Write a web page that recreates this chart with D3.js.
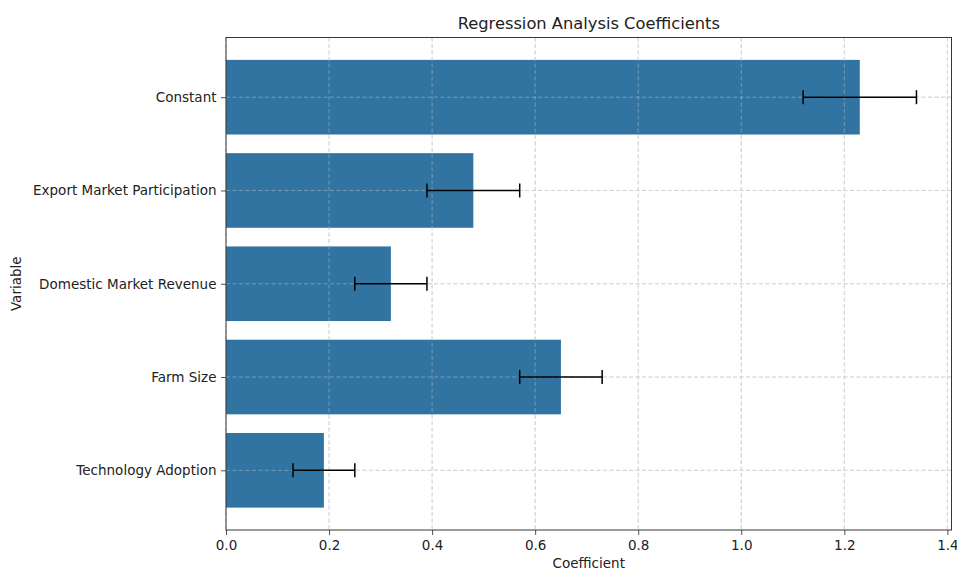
<!DOCTYPE html>
<html><head><meta charset="utf-8">
<script src="https://cdn.jsdelivr.net/npm/d3@7"></script>
<style>body{margin:0;background:#fff}svg{font-family:"DejaVu Sans",sans-serif}</style>
</head><body><svg id="c" width="957" height="570"></svg>
<script>
const categories = ["Constant","Export Market Participation","Domestic Market Revenue","Farm Size","Technology Adoption"];
const coefficients = [1.23, 0.48, 0.32, 0.65, 0.19];
const errors = [0.11, 0.09, 0.07, 0.08, 0.06];
const xTicks = [0.0,0.2,0.4,0.6,0.8,1.0,1.2,1.4];

const svg = d3.select("#c");
const L=226, R=951.5, T=37.5, B=530;
const x = d3.scaleLinear().domain([0,1.408]).range([L,R]);
const y = d3.scaleLinear().domain([-0.64,4.64]).range([T,B]);
const grid = "#cccccc";

function drawGrid(op){
  svg.append("g").selectAll("line").data(xTicks).join("line")
    .attr("x1",d=>x(d)).attr("x2",d=>x(d)).attr("y1",T).attr("y2",B)
    .attr("stroke",grid).attr("stroke-opacity",op).attr("stroke-width",0.8).attr("stroke-dasharray","4,2.5");
  svg.append("g").selectAll("line").data(categories).join("line")
    .attr("y1",(d,i)=>y(i)).attr("y2",(d,i)=>y(i)).attr("x1",L).attr("x2",R)
    .attr("stroke",grid).attr("stroke-opacity",op).attr("stroke-width",0.8).attr("stroke-dasharray","4,2.5");
}
drawGrid(1);

// bars
svg.append("g").selectAll("rect").data(coefficients).join("rect")
  .attr("x",x(0)).attr("y",(d,i)=>y(i-0.4)).attr("width",d=>x(d)-x(0))
  .attr("height",(d,i)=>y(i+0.4)-y(i-0.4)).attr("fill","#3274a1");

drawGrid(0.55);

// error bars
const eg = svg.append("g").attr("stroke","#000").attr("stroke-width",1.5);
coefficients.forEach((v,i)=>{
  const e=errors[i];
  eg.append("line").attr("x1",x(v-e)).attr("x2",x(v+e)).attr("y1",y(i)).attr("y2",y(i));
  [v-e,v+e].forEach(p=>eg.append("line").attr("x1",x(p)).attr("x2",x(p)).attr("y1",y(i)-7).attr("y2",y(i)+7));
});

// axes
const xa = svg.append("g").attr("transform",`translate(0,${B})`)
  .call(d3.axisBottom(x).tickValues(xTicks).tickFormat(d3.format(".1f")).tickSizeOuter(0).tickSize(5).tickPadding(4));
const ya = svg.append("g").attr("transform",`translate(${L},0)`)
  .call(d3.axisLeft(d3.scaleOrdinal().domain(categories).range(categories.map((c,i)=>y(i)))).tickSizeOuter(0).tickSize(5).tickPadding(4.5));
[xa,ya].forEach(a=>{a.attr("font-family","DejaVu Sans").attr("font-size",13.5);a.select(".domain").remove();a.selectAll("text").attr("fill","#222");a.selectAll("line").attr("stroke","#222").attr("stroke-width",0.8);});
xa.selectAll("text").attr("dy","0.8em");

svg.append("rect").attr("x",L).attr("y",T).attr("width",R-L).attr("height",B-T)
  .attr("fill","none").attr("stroke","#222").attr("stroke-width",0.9);

// labels
svg.append("text").attr("x",(L+R)/2).attr("y",29).attr("text-anchor","middle").attr("font-size",16.3).attr("fill","#222").text("Regression Analysis Coefficients");
svg.append("text").attr("x",(L+R)/2).attr("y",568).attr("text-anchor","middle").attr("font-size",13.5).attr("fill","#222").text("Coefficient");
svg.append("text").attr("transform",`translate(21,${(T+B)/2}) rotate(-90)`).attr("text-anchor","middle").attr("font-size",13.5).attr("fill","#222").text("Variable");
</script></body></html>
